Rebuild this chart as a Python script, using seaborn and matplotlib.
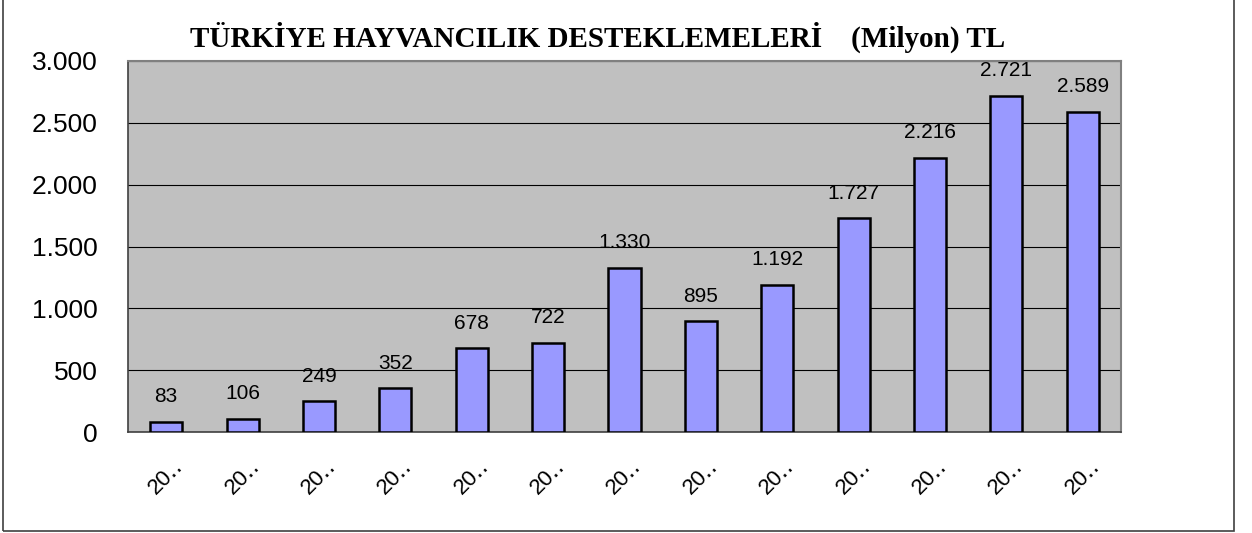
import numpy as np
import pandas as pd
import matplotlib
matplotlib.use("Agg")
import matplotlib.pyplot as plt
import seaborn as sns
from matplotlib.patches import Rectangle
from matplotlib.ticker import FuncFormatter, MultipleLocator

# data
years = ["2000", "2001", "2002", "2003", "2004", "2005", "2006",
         "2007", "2008", "2009", "2010", "2011", "2012"]
supports = [83, 106, 249, 352, 678, 722, 1330, 895, 1192, 1727, 2216, 2721, 2589]
tick_labels = [y[:2] + "\u2025" for y in years]  # Excel truncated the labels
title = "TÜRKİYE HAYVANCILIK DESTEKLEMELERİ    (Milyon) TL"

df = pd.DataFrame({"year": years, "value": supports})

sns.set_style("white")
plt.rcParams["font.family"] = ["Liberation Sans", "DejaVu Sans"]
plt.rcParams["text.color"] = "black"
plt.rcParams["xtick.color"] = "black"
plt.rcParams["ytick.color"] = "black"

fig = plt.figure(figsize=(12.52, 5.33), dpi=100)
ax = fig.add_axes([128 / 1252, 101 / 533, 993 / 1252, 371 / 533])
ax.set_facecolor("#C0C0C0")

sns.barplot(data=df, x="year", y="value", color="#9999FF", saturation=1,
            edgecolor="black", linewidth=1.8, width=0.42, ax=ax, zorder=3)

def thousands(v, pos):
    return f"{int(v):,}".replace(",", ".")

ax.set_ylim(0, 3000)
ax.set_xlim(-0.5, len(years) - 0.5)
ax.yaxis.set_major_locator(MultipleLocator(500))
ax.yaxis.set_major_formatter(FuncFormatter(thousands))
ax.grid(axis="y", color="black", linewidth=0.8, zorder=1)
ax.set_axisbelow(True)

ax.set_xticks(range(len(years)))
ax.set_xticklabels(tick_labels, rotation=45, ha="center", va="top")
ax.set_xticks(np.arange(-0.5, len(years)), minor=True)
ax.tick_params(axis="x", which="major", length=0, pad=17, labelsize=16,
               labelcolor="black")
ax.tick_params(axis="x", which="minor", length=8, width=1, color="#404040", direction="out")
ax.tick_params(axis="y", length=8, width=1, color="#404040", direction="out",
               pad=14, labelsize=19, labelcolor="black")
ax.set_xlabel("")
ax.set_ylabel("")

for side in ["left", "bottom"]:
    ax.spines[side].set_color("#404040")
    ax.spines[side].set_linewidth(1.2)
for side in ["top", "right"]:
    ax.spines[side].set_color("#808080")
    ax.spines[side].set_linewidth(1.5)

for i, v in enumerate(supports):
    ax.annotate(thousands(v, None), (i, v), xytext=(0, 18), textcoords="offset points",
                ha="center", va="center", fontsize=15, color="black")

fig.text(598 / 1252, 496 / 533, title, ha="center", va="center", color="black",
         fontsize=21, fontweight="bold", family=["Liberation Serif", "DejaVu Serif"])

fig.patches.append(Rectangle((3 / 1252, 2 / 533), 1231 / 1252, 540 / 533,
                             transform=fig.transFigure, fill=False,
                             edgecolor="#404040", linewidth=1.2))

fig.savefig("out.png", dpi=100, facecolor="white")
